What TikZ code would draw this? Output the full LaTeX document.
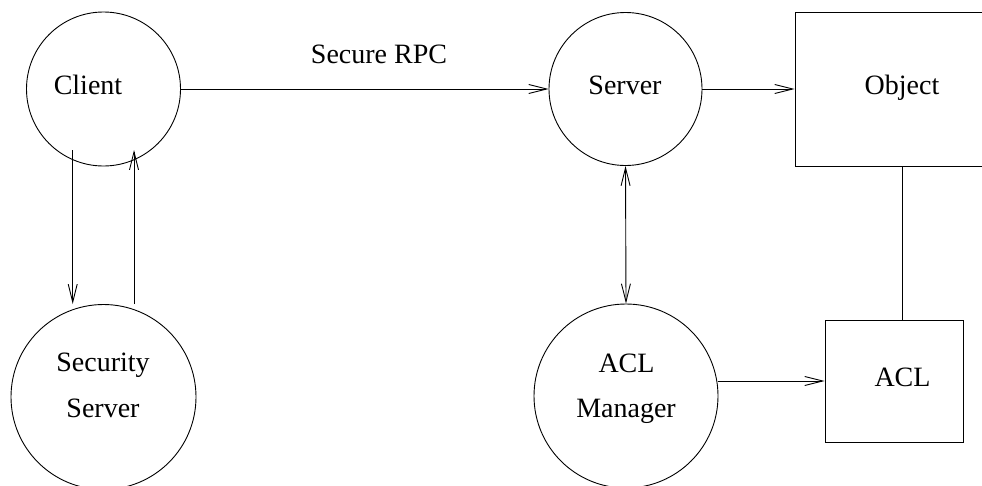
\documentclass[tikz,border=0pt]{standalone}
\usepackage{fontspec}
\setmainfont{Liberation Serif}
\usetikzlibrary{arrows.meta,calc}
\begin{document}
\begin{tikzpicture}[x=1pt,y=-1pt,
  line width=0.9pt,
  tip/.tip={Straight Barb[length=18pt,width=9pt,line width=0.9pt]},
  blob/.style={draw,circle,inner sep=0pt,minimum size=#1},
  boxshape/.style={draw,rectangle,inner sep=0pt},
  lbl/.style={font=\fontsize{28}{30}\selectfont,anchor=base,inner sep=0pt},
  conn/.style={-{tip}},
  biconn/.style={{tip}-{tip}}]
\useasboundingbox (0,0) rectangle (982,485);
\clip (0,0) rectangle (982,485);
% shapes
\node[blob=154pt] (client) at (103.5,89) {};
\node[blob=153pt] (server) at (625.5,89) {};
\node[blob=185pt] (secsrv) at (103.5,397) {};
\node[blob=184pt] (aclm) at (626,396) {};
\node[boxshape,minimum width=214pt,minimum height=154pt] (object) at (902,89) {};
\node[boxshape,minimum width=138pt,minimum height=122pt] (acl) at (894,381) {};
% labels
\node[lbl] (tclient) at (88,94) {Client};
\node[lbl] (tserver) at (625,94) {Server};
\node[lbl] (tobject) at (902,94) {Object};
\node[lbl] (trpc) at (379,63) {Secure RPC};
\node[lbl] (tsec1) at (103,371) {Security};
\node[lbl] (tsec2) at (103,417) {Server};
\node[lbl] (tacl1) at (626.5,372) {ACL};
\node[lbl] (tacl2) at (626,417) {Manager};
\node[lbl] (tacl) at (902.5,386) {ACL};
% coordinates
\coordinate (c1) at ($(client.center)+(-30.8,61)$);
\coordinate (s1) at ($(secsrv.center)+(-30.8,-93)$);
\coordinate (c2) at ($(client.center)+(30.5,61)$);
\coordinate (s2) at ($(secsrv.center)+(30.5,-93)$);
% connectors
\draw[conn] (client.east) -- (server.west);
\draw[conn] (server.east) -- (object.west);
\draw[biconn] (server.south) -- (aclm.north);
\draw (object.south) -- (object.south |- acl.north);
\draw[conn] (aclm.east |- acl.west) -- (acl.west);
\draw[conn] (c1) -- (s1);
\draw[conn] (s2) -- (c2);
\end{tikzpicture}
\end{document}
